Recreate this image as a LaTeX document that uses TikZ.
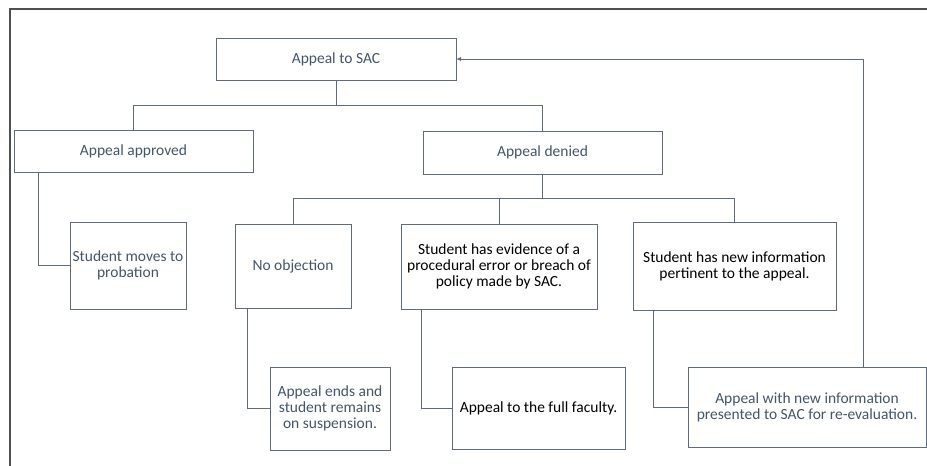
\documentclass[tikz,border=0pt]{standalone}
\usepackage{fontspec}
\setmainfont{Carlito}
\usetikzlibrary{arrows.meta}
\definecolor{slate}{HTML}{44546A}
\definecolor{edge}{HTML}{5F6B7D}
\definecolor{frame}{HTML}{505050}
\begin{document}
\begin{tikzpicture}[x=1pt,y=-1pt,
	box/.style={draw=edge,line width=0.8pt,inner sep=0pt,outer sep=0pt,align=center,text=slate,font=\fontsize{15.5}{16}\selectfont},
	link/.style={draw=edge,line width=0.8pt}]
		\useasboundingbox (0,0) rectangle (927,466);
		\draw[frame,line width=1.2pt] (10,466) -- (10,9) -- (927,9);
		\node[box,minimum width=240,minimum height=42](sac) at (336,59){Appeal to SAC};
		\node[box,minimum width=239,minimum height=42](approved) at (133.5,151){Appeal approved};
		\node[box,minimum width=239,minimum height=43](denied) at (542.5,152.5){Appeal denied};
		\node[box,minimum width=116,minimum height=87](probation) at (128,265.5){Student moves to\\probation};
		\node[box,minimum width=116,minimum height=84](noobj) at (293,266){No objection};
		\node[box,text=black,minimum width=196,minimum height=85](evidence) at (499,266.5){Student has evidence of a\\procedural error or breach of\\policy made by SAC.};
		\node[box,text=black,minimum width=203,minimum height=88](newinfo) at (734.5,266){Student has new information\\pertinent to the appeal.};
		\node[box,minimum width=120,minimum height=83](ends) at (330,408.5){Appeal ends and\\student remains\\on suspension.};
		\node[box,text=black,minimum width=173,minimum height=82](faculty) at (538.5,408){Appeal to the full faculty.};
		\node[box,minimum width=238,minimum height=80](reeval) at (807,407){Appeal with new information\\presented to SAC for re-evaluation.};
		\coordinate (bus1) at (336,105);
		\coordinate (bus2) at (542.5,198);
		\draw[link] (sac.south)--(bus1)-|(approved.north);
		\draw[link] (bus1)-|(denied.north);
		\draw[link] (denied.south)--(bus2)-|(noobj.north);
		\draw[link] (bus2)-|(evidence.north);
		\draw[link] (bus2)-|(newinfo.north);
		\draw[link] ([xshift=24]approved.south west)|-(probation.west);
		\draw[link] ([xshift=12]noobj.south west)|-(ends.west);
		\draw[link] ([xshift=20]evidence.south west)|-(faculty.west);
		\draw[link] ([xshift=20]newinfo.south west)|-(reeval.west);
		\draw[link,-{Latex[length=5pt,width=4pt]}] ([xshift=56]reeval.north)|-(sac.east);
	\end{tikzpicture}
\end{document}
